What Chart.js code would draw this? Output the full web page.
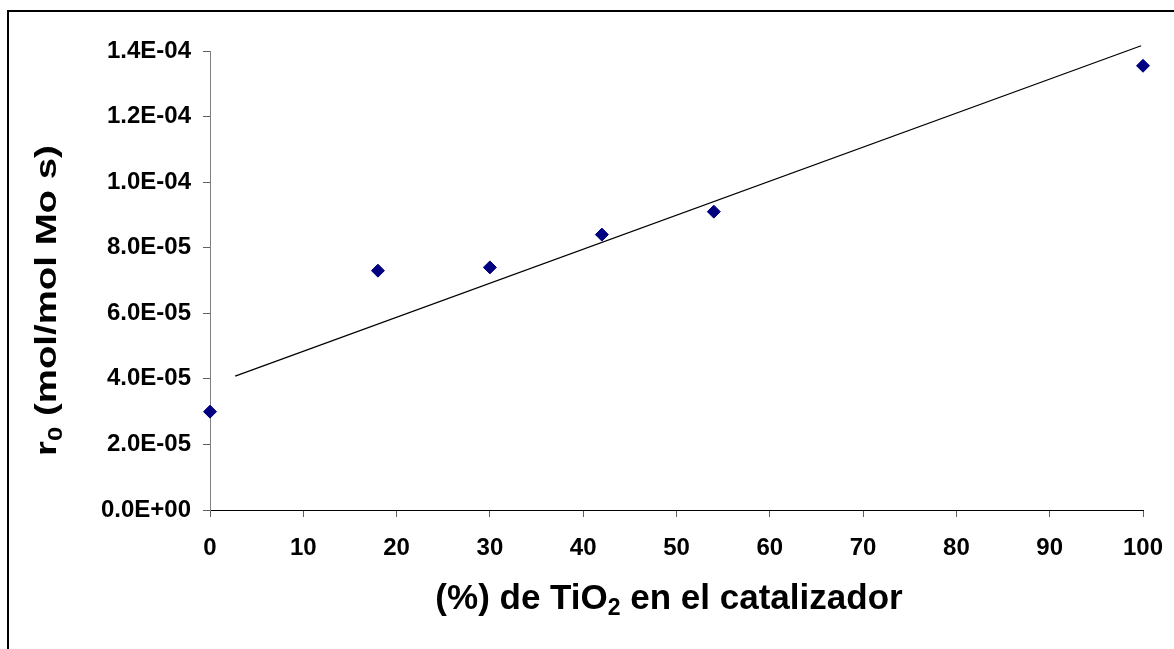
<!DOCTYPE html>
<html>
<head>
<meta charset="utf-8">
<title>Velocidad inicial vs. contenido de TiO2</title>
<script src="https://cdn.jsdelivr.net/npm/chart.js@4.4.1/dist/chart.umd.min.js"></script>
<style>
  html, body { margin: 0; padding: 0; background: #ffffff; }
  #wrap { position: relative; width: 1174px; height: 649px; overflow: hidden; }
  canvas { display: block; }
</style>
</head>
<body>
<div id="wrap"><canvas id="chart" width="1174" height="649"></canvas></div>
<script>
// Catalyst TiO2 content (%) and measured initial rate r0 (mol/mol Mo s)
const tiO2Pct = [0, 18, 30, 42, 54, 100];
const rateR0 = [3.0e-5, 7.3e-5, 7.4e-5, 8.4e-5, 9.1e-5, 1.355e-4];

// Linear trend line end points
const trendPct = [2.7, 99.8];
const trendRate = [4.08e-5, 1.416e-4];

// Axis ticks
const xTickValues = [0, 10, 20, 30, 40, 50, 60, 70, 80, 90, 100];
const yTickValues = [0, 2e-5, 4e-5, 6e-5, 8e-5, 1e-4, 1.2e-4, 1.4e-4];
const yTickLabels = ['0.0E+00', '2.0E-05', '4.0E-05', '6.0E-05', '8.0E-05', '1.0E-04', '1.2E-04', '1.4E-04'];

const FONT = "'Liberation Sans', Arial, Helvetica, sans-serif";

// Outer frame and axis titles (with subscripts) drawn on the canvas
const decorations = {
  id: 'decorations',
  afterDraw(chart) {
    const ctx = chart.ctx;
    ctx.save();
    // frame
    ctx.strokeStyle = '#000000';
    ctx.lineWidth = 2;
    ctx.strokeRect(8, 11, 1300, 800);

    ctx.fillStyle = '#000000';
    ctx.textBaseline = 'alphabetic';
    ctx.textAlign = 'left';

    // x axis title: (%) de TiO2 en el catalizador
    const xMain = 'bold 35px ' + FONT;
    const xSub = 'bold 23px ' + FONT;
    const xParts = [
      { t: '(%) de TiO', f: xMain, dy: 0 },
      { t: '2', f: xSub, dy: 6 },
      { t: ' en el catalizador', f: xMain, dy: 0 }
    ];
    let total = 0;
    xParts.forEach(p => { ctx.font = p.f; p.w = ctx.measureText(p.t).width; total += p.w; });
    let cx = 669 - total / 2;
    const baseX = 609;
    xParts.forEach(p => { ctx.font = p.f; ctx.fillText(p.t, cx, baseX + p.dy); cx += p.w; });

    // y axis title: r0 (mol/mol Mo s), rotated
    const yMain = 'bold 30px ' + FONT;
    const ySub = 'bold 20px ' + FONT;
    const yParts = [
      { t: 'r', f: yMain, dy: 0 },
      { t: '0', f: ySub, dy: 6 },
      { t: ' (mol/mol Mo s)', f: yMain, dy: 0 }
    ];
    total = 0;
    yParts.forEach(p => { ctx.font = p.f; p.w = ctx.measureText(p.t).width; total += p.w; });
    const stretch = 1.28;
    ctx.translate(56, 300.5);
    ctx.rotate(-Math.PI / 2);
    ctx.scale(stretch, 1);
    let cy = -total / 2;
    yParts.forEach(p => { ctx.font = p.f; ctx.fillText(p.t, cy, p.dy); cy += p.w; });
    ctx.restore();
  }
};

new Chart(document.getElementById('chart'), {
  type: 'scatter',
  data: {
    datasets: [
      {
        label: 'r0',
        data: tiO2Pct.map((x, i) => ({ x: x, y: rateR0[i] })),
        pointStyle: 'rectRot',
        pointRadius: 6.5,
        pointHoverRadius: 6.5,
        pointBackgroundColor: '#000080',
        pointBorderColor: '#000080',
        pointBorderWidth: 1,
        showLine: false,
        clip: false,
        order: 1
      },
      {
        label: 'Lineal',
        type: 'line',
        data: trendPct.map((x, i) => ({ x: x, y: trendRate[i] })),
        borderColor: '#000000',
        borderWidth: 1.3,
        pointRadius: 0,
        fill: false,
        tension: 0,
        clip: false,
        order: 2
      }
    ]
  },
  options: {
    responsive: false,
    animation: false,
    events: [],
    layout: { padding: { left: 0, top: 51, right: 31, bottom: 0 } },
    plugins: {
      legend: { display: false },
      tooltip: { enabled: false },
      title: { display: false }
    },
    scales: {
      x: {
        type: 'linear',
        min: 0,
        max: 100,
        afterBuildTicks(scale) { scale.ticks = xTickValues.map(v => ({ value: v })); },
        afterFit(scale) { scale.height = 139; scale.paddingLeft = 0; scale.paddingRight = 0; },
        border: { display: true, color: '#000000', width: 1 },
        grid: { display: true, drawOnChartArea: false, drawTicks: true, tickLength: 7, tickColor: '#606060', tickWidth: 1 },
        ticks: {
          color: '#000000',
          padding: 17,
          maxRotation: 0,
          autoSkip: false,
          font: { family: FONT, size: 24, weight: 'bold' },
          callback: (v) => String(v)
        }
      },
      y: {
        type: 'linear',
        min: 0,
        max: 1.4e-4,
        afterBuildTicks(scale) { scale.ticks = yTickValues.map(v => ({ value: v })); },
        afterFit(scale) { scale.width = 210; scale.paddingTop = 0; scale.paddingBottom = 0; },
        border: { display: true, color: '#808080', width: 1 },
        grid: { display: true, drawOnChartArea: false, drawTicks: true, tickLength: 7, tickColor: '#606060', tickWidth: 1 },
        ticks: {
          color: '#000000',
          padding: 12,
          autoSkip: false,
          font: { family: FONT, size: 24, weight: 'bold' },
          callback: (v, i) => yTickLabels[i]
        }
      }
    }
  },
  plugins: [decorations]
});
</script>
</body>
</html>
